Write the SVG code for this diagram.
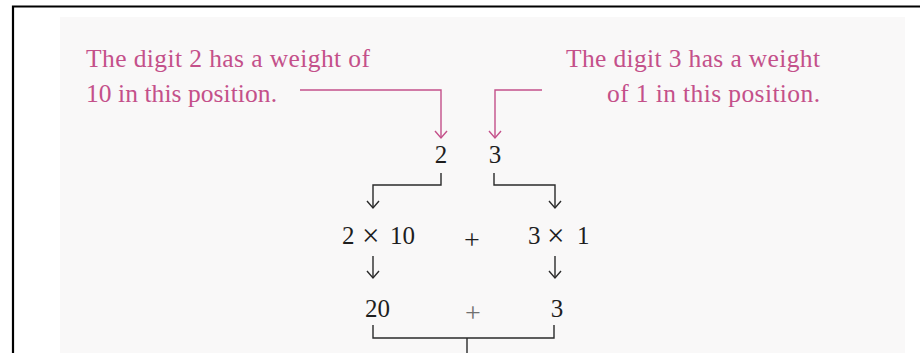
<svg xmlns="http://www.w3.org/2000/svg" width="920" height="353" viewBox="0 0 920 353">
<style>
.pink{fill:#c4508a;font-family:"Liberation Serif","Times New Roman",serif;font-size:25.5px}
.num{fill:#1e1e1e;font-family:"Liberation Serif","Times New Roman",serif;font-size:25px}
.x{font-size:31px}
.plus{font-family:"Liberation Serif","Times New Roman",serif;font-size:28px;text-anchor:middle}
.pl{fill:none;stroke:#c4508a;stroke-width:1.4}
.bl{fill:none;stroke:#2a2a2a;stroke-width:1.4}
</style>
<defs>
<marker id="ap" markerUnits="userSpaceOnUse" markerWidth="16" markerHeight="16" viewBox="-8 -8 16 16" refX="0" refY="0" orient="auto">
<path d="M-7,-6 L0,0 L-7,6" fill="none" stroke="#c4508a" stroke-width="1.4"/>
</marker>
<marker id="ab" markerUnits="userSpaceOnUse" markerWidth="16" markerHeight="16" viewBox="-8 -8 16 16" refX="0" refY="0" orient="auto">
<path d="M-7,-6 L0,0 L-7,6" fill="none" stroke="#2a2a2a" stroke-width="1.4"/>
</marker>
</defs>
<rect x="0" y="0" width="920" height="353" fill="#ffffff"/>
<path d="M13,353 V6.5 H920" fill="none" stroke="#000" stroke-width="2.2"/>
<rect x="60" y="17" width="845" height="336" fill="#f9f8f8"/>

<g id="label-left">
<text class="pink" x="86" y="66.5" textLength="284" lengthAdjust="spacing">The digit 2 has a weight of</text>
<text class="pink" x="86" y="101.5" textLength="191" lengthAdjust="spacing">10 in this position.</text>
</g>
<g id="label-right">
<text class="pink" x="566" y="66.5" textLength="254" lengthAdjust="spacing">The digit 3 has a weight</text>
<text class="pink" x="607" y="101.5" textLength="213" lengthAdjust="spacing">of 1 in this position.</text>
</g>
<g id="digit-2"><text class="num" x="441" y="163" text-anchor="middle">2</text></g>
<g id="digit-3"><text class="num" x="495" y="163" text-anchor="middle">3</text></g>
<g id="prod-2x10"><text class="num" y="244"><tspan x="342">2</tspan><tspan class="x" x="362" y="246">×</tspan><tspan x="390" y="244">10</tspan></text></g>
<g id="plus-1"><text class="plus" x="472" y="249" fill="#1e1e1e">+</text></g>
<g id="prod-3x1"><text class="num" y="244"><tspan x="528">3</tspan><tspan class="x" x="547" y="246">×</tspan><tspan x="577" y="244">1</tspan></text></g>
<g id="val-20"><text class="num" x="365" y="317">20</text></g>
<g id="plus-2"><text class="plus" x="473" y="322" fill="#707070">+</text></g>
<g id="val-3"><text class="num" x="557" y="317" text-anchor="middle">3</text></g>

<g id="connectors">
<path class="pl" d="M300,90 H441 V138" marker-end="url(#ap)"/>
<path class="pl" d="M542,90 H495 V138" marker-end="url(#ap)"/>
<path class="bl" d="M441,173 V185 H373 V208" marker-end="url(#ab)"/>
<path class="bl" d="M494,173 V185 H555 V208" marker-end="url(#ab)"/>
<path class="bl" d="M373,256 V278" marker-end="url(#ab)"/>
<path class="bl" d="M555,256 V278" marker-end="url(#ab)"/>
<path class="bl" d="M373,325 V338 H554 V325"/>
<path class="bl" d="M467,338 V353"/>
</g>
</svg>
